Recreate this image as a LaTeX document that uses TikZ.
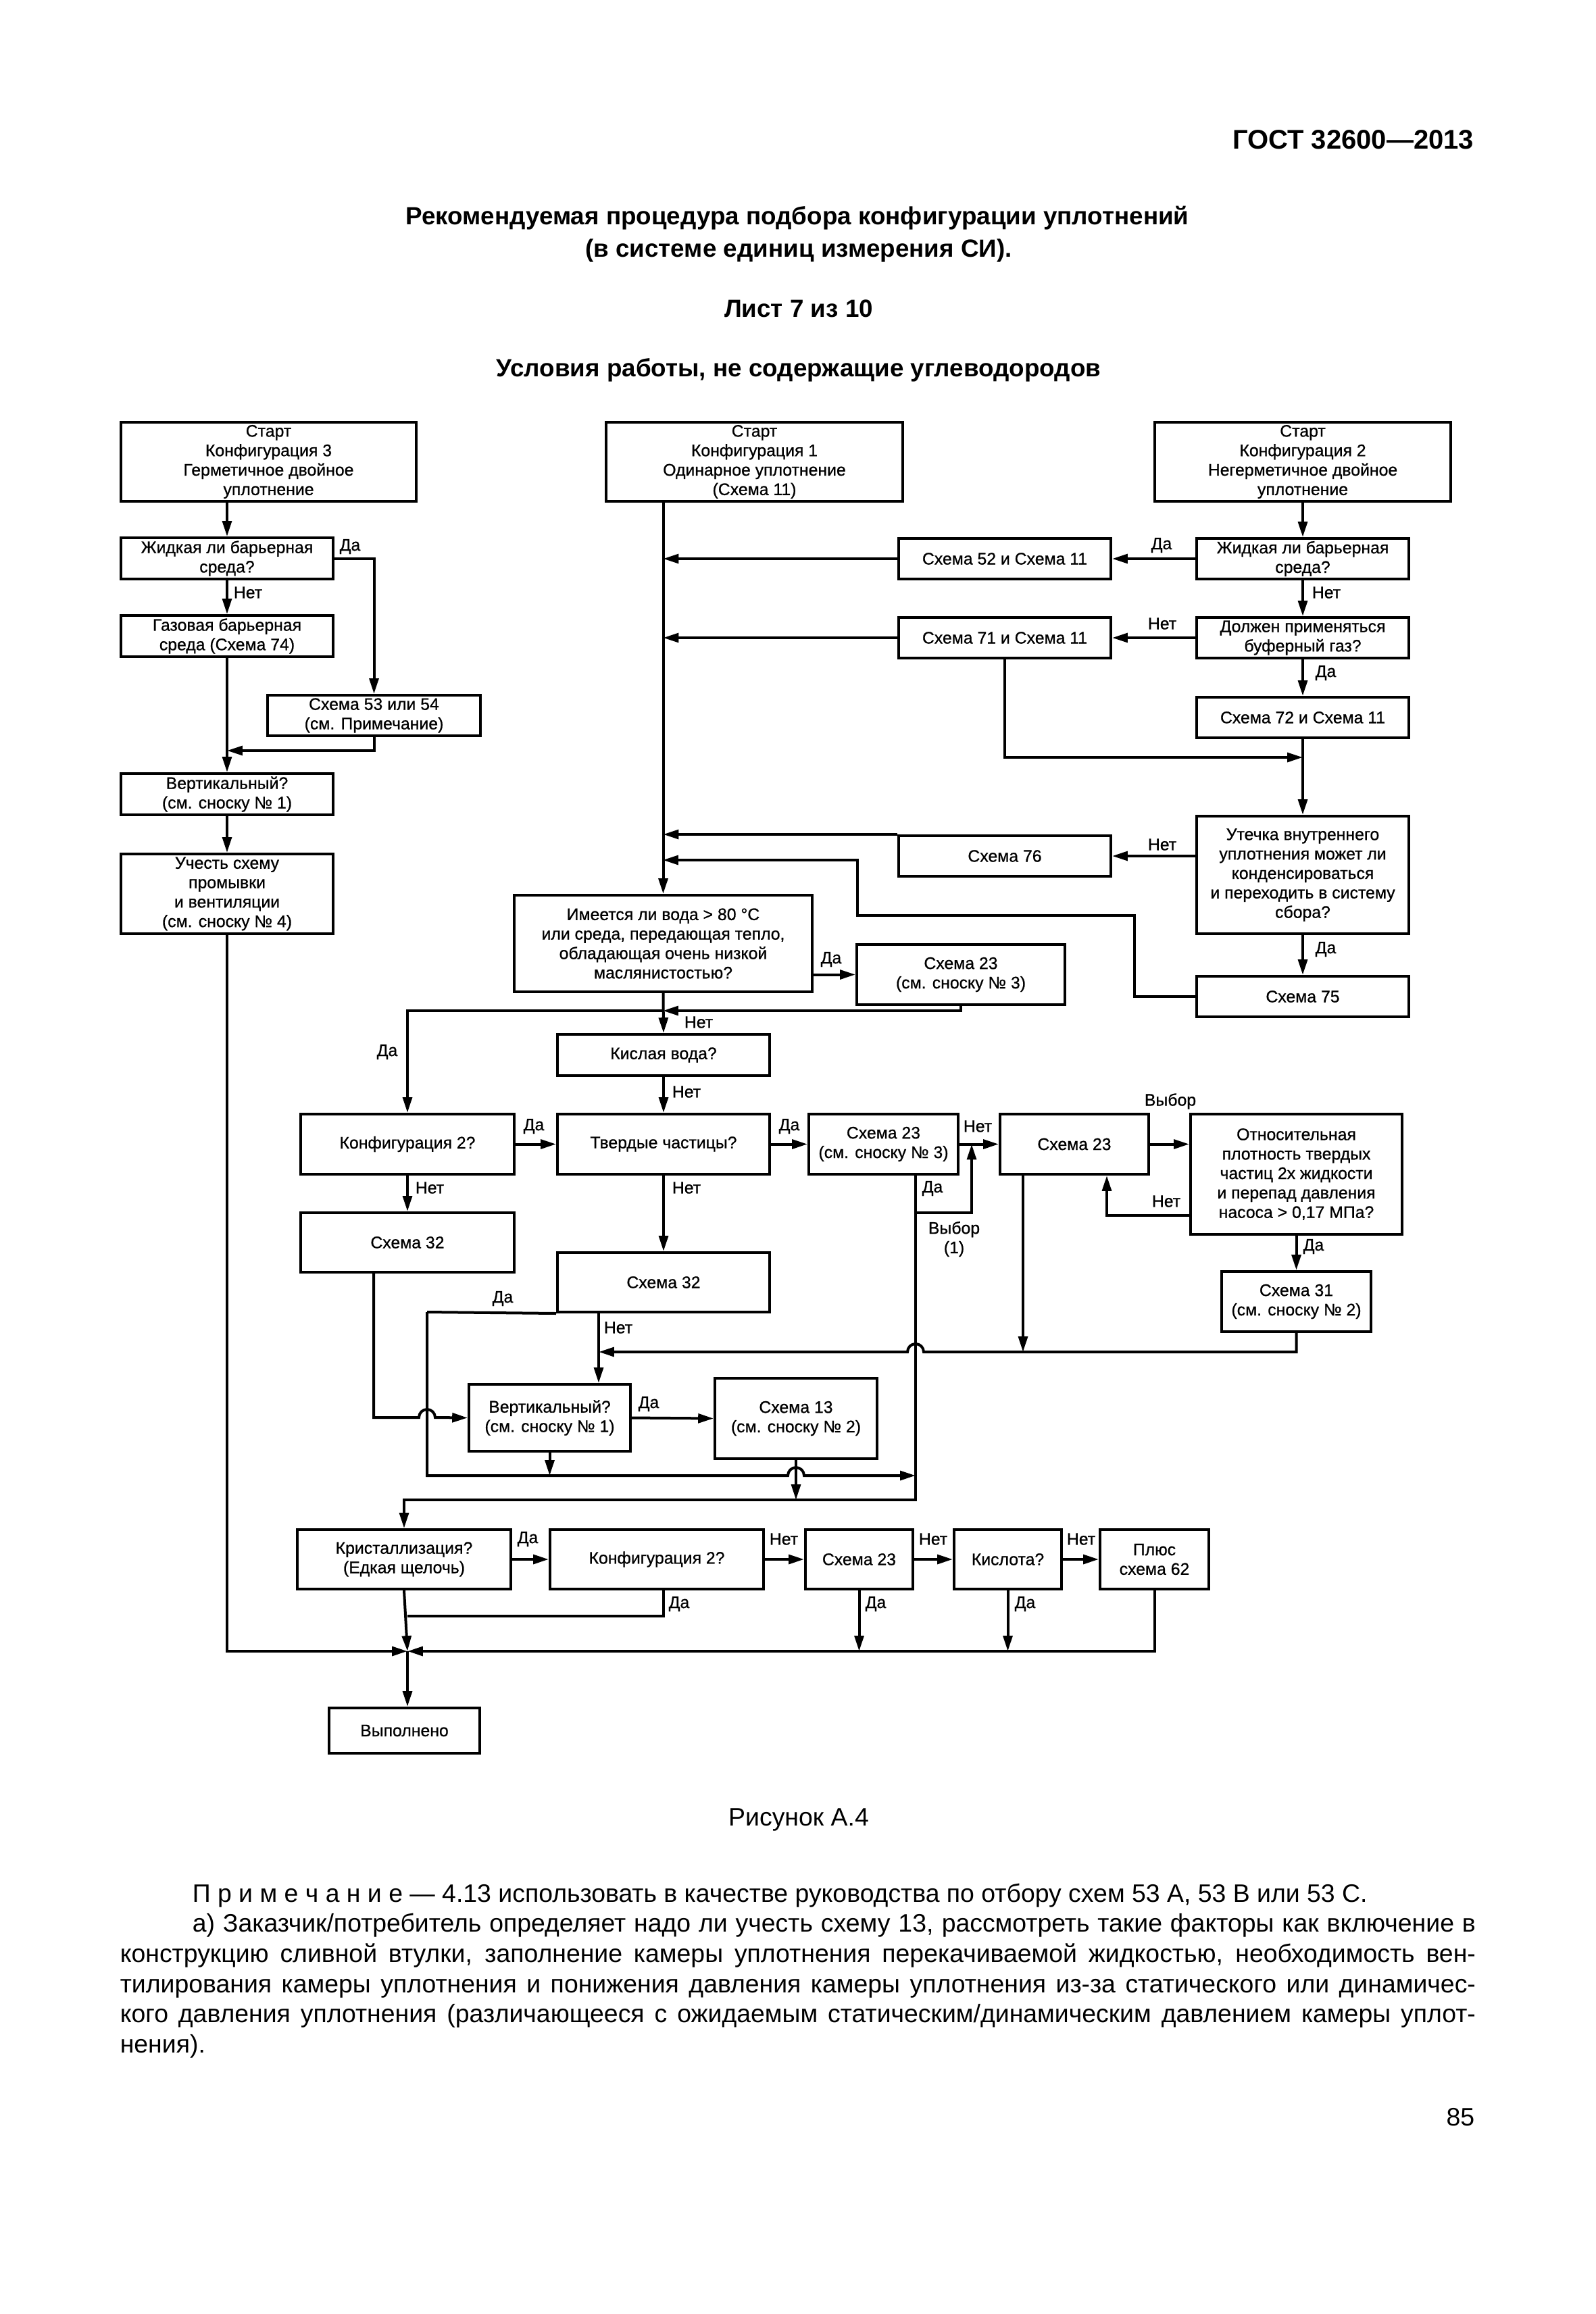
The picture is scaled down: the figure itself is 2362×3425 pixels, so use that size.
\documentclass[tikz,border=0pt]{standalone}
\usepackage{fontspec}
\setmainfont{Liberation Sans}
\newfontfamily\boxfont{Liberation Sans}[FakeBold=0.8]
\usetikzlibrary{arrows.meta}
\newcommand\fs{\boxfont\fontsize{6.2}{7.2}\selectfont}
\newcommand\hfnt{\fontsize{9.2}{11}\selectfont\bfseries}
\newcommand\gfnt{\fontsize{10}{12}\selectfont\bfseries}
\newcommand\bfnt{\fontsize{9.35}{11.15}\selectfont}
\tikzset{
  box/.style={draw,line width=1pt,inner sep=0pt,align=center,font=\fs},
  lbl/.style={inner sep=0pt,font=\fs},
  con/.style={line width=1pt},
  arr/.style={con,-{Triangle[length=5.7pt,width=3.4pt]}},
  head/.style={inner sep=0pt,font=\hfnt},
  body/.style={inner sep=0pt,font=\bfnt},
}
\newcommand\bx[6]{\node[box,minimum width={(#4-#2)*0.25pt},minimum height={(#5-#3)*0.25pt}] (#1) at ({(#2+#4)/2},{(#3+#5)/2}) {#6};}
\newcommand\lb[4]{\node[lbl] (#1) at (#2,#3) {#4};}
\newcommand\jline[2]{\makebox[#1][s]{#2}}
\begin{document}
\begin{tikzpicture}[x=0.25pt,y=-0.25pt]
\fill[white] (0,0) rectangle (2362,3425);
\useasboundingbox (0,0) rectangle (2362,3425);
% ---------- header ----------
\node[inner sep=0pt,font=\gfnt,anchor=east] (gost) at (2182,207) {ГОСТ 32600—2013};
\node[head] (t1) at (1180,323) {Рекомендуемая процедура подбора конфигурации уплотнений};
\node[head] (t2) at (1182,371) {(в системе единиц измерения СИ).};
\node[head] (t3) at (1182,457) {Лист 7 из 10};
\node[head] (t4) at (1182,548) {Условия работы, не содержащие углеводородов};
% ---------- boxes ----------
\bx{Start3}{179}{625}{616}{742}{Старт\\Конфигурация 3\\Герметичное двойное\\уплотнение}
\bx{Start1}{897}{625}{1336}{742}{Старт\\Конфигурация 1\\Одинарное уплотнение\\(Схема 11)}
\bx{Start2}{1709}{625}{2147}{742}{Старт\\Конфигурация 2\\Негерметичное двойное\\уплотнение}
\bx{L1}{179}{796}{493}{857}{Жидкая ли барьерная\\среда?}
\bx{L2}{179}{911}{493}{972}{Газовая барьерная\\среда (Схема 74)}
\bx{L3}{396}{1029}{711}{1089}{Схема 53 или 54\\(см. Примечание)}
\bx{L4}{179}{1145}{493}{1206}{Вертикальный?\\(см. сноску № 1)}
\bx{L5}{179}{1264}{493}{1382}{Учесть схему\\промывки\\и вентиляции\\(см. сноску № 4)}
\bx{M1}{1330}{797}{1644}{857}{Схема 52 и Схема 11}
\bx{M2}{1330}{914}{1644}{974}{Схема 71 и Схема 11}
\bx{R1}{1771}{797}{2085}{857}{Жидкая ли барьерная\\среда?}
\bx{R2}{1771}{914}{2085}{974}{Должен применяться\\буферный газ?}
\bx{R3}{1771}{1032}{2085}{1092}{Схема 72 и Схема 11}
\bx{R4}{1771}{1208}{2085}{1382}{Утечка внутреннего\\уплотнения может ли\\конденсироваться\\и переходить в систему\\сбора?}
\bx{M3}{1330}{1237}{1644}{1297}{Схема 76}
\bx{R5}{1771}{1445}{2085}{1505}{Схема 75}
\bx{C1}{761}{1325}{1202}{1468}{Имеется ли вода > 80 °C\\или среда, передающая тепло,\\обладающая очень низкой\\маслянистостью?}
\bx{C2}{1268}{1398}{1576}{1487}{Схема 23\\(см. сноску № 3)}
\bx{C3}{825}{1531}{1139}{1592}{Кислая вода?}
\bx{K1}{445}{1649}{761}{1738}{Конфигурация 2?}
\bx{C4}{825}{1649}{1139}{1738}{Твердые частицы?}
\bx{C5}{1197}{1649}{1418}{1738}{Схема 23\\(см. сноску № 3)}
\bx{C6}{1480}{1649}{1700}{1738}{Схема 23}
\bx{C8}{1762}{1649}{2075}{1827}{Относительная\\плотность твердых\\частиц 2х жидкости\\и перепад давления\\насоса > 0,17 МПа?}
\bx{K2}{445}{1795}{761}{1883}{Схема 32}
\bx{C7}{825}{1854}{1139}{1942}{Схема 32}
\bx{C9}{1808}{1882}{2029}{1971}{Схема 31\\(см. сноску № 2)}
\bx{V1}{694}{2049}{933}{2148}{Вертикальный?\\(см. сноску № 1)}
\bx{V2}{1058}{2040}{1298}{2159}{Схема 13\\(см. сноску № 2)}
\bx{K3}{440}{2264}{756}{2352}{Кристаллизация?\\(Едкая щелочь)}
\bx{K4}{814}{2264}{1130}{2352}{Конфигурация 2?}
\bx{K5}{1192}{2264}{1351}{2352}{Схема 23}
\bx{K6}{1412}{2264}{1571}{2352}{Кислота?}
\bx{K7}{1628}{2264}{1789}{2352}{Плюс\\схема 62}
\bx{Done}{487}{2528}{710}{2595}{Выполнено}
% ---------- junction coordinates ----------
\coordinate (j1) at (336,1111);
\coordinate (mg) at (603,2444);
\coordinate (j2) at (1928,1121);
\coordinate (j5) at (981,1273);
\coordinate (j3) at (981,1496);
\coordinate (c5b) at (1355,1738);
\coordinate (c5r) at (1438,1795);
\coordinate (j7) at (1355,2220);
\coordinate (c8l) at (1638,1799);
\coordinate (c6d) at (1514,2001);
\coordinate (c7x) at (886,1942);
\coordinate (c7l) at (632,1942);
\coordinate (k2x) at (553,1883);
\coordinate (k4x) at (982,2352);
\coordinate (k4j) at (603,2392);
% ---------- left column ----------
\draw[arr] (Start3.south -| L1.north) -- (L1.north);
\draw[arr] (L1.east) -| (L3.north);
\draw[arr] (L1.south) -- (L2.north);
\draw[arr] (L2.south) -- (L4.north);
\draw[arr] (L3.south) |- (j1);
\draw[arr] (L4.south) -- (L5.north);
\draw[arr] (L5.south) |- (mg);
% ---------- right column / top ----------
\draw[arr] (Start1.south -| C1.north) -- (C1.north);
\draw[arr] (Start2.south) -- (R1.north);
\draw[arr] (R1.west) -- (M1.east);
\draw[arr] (M1.west) -- (M1.west -| C1.north);
\draw[arr] (R1.south) -- (R2.north);
\draw[arr] (R2.west) -- (M2.east);
\draw[arr] (M2.west) -- (M2.west -| C1.north);
\draw[arr] (R2.south) -- (R3.north);
\draw[arr] (M2.south) |- (j2);
\draw[arr] (R3.south) -- (R4.north);
\draw[arr] (M3.east -| R4.west) -- (M3.east);
\draw[arr] (M3.north west) -- (M3.north west -| C1.north);
\draw[arr] (R4.south) -- (R5.north);
\draw[arr] (R5.west) -| (1679,1355) -| (1269,1273) -- (j5);
% ---------- middle ----------
\draw[arr] (C2.west -| C1.east) -- (C2.west);
\draw[arr] (C2.south) |- (j3);
\draw[arr] (C1.south) -- (C3.north);
\draw[arr] (j3) -| (K1.north);
\draw[arr] (C3.south) -- (C4.north);
\draw[arr] (K1.east) -- (C4.west);
\draw[arr] (C4.east) -- (C5.west);
\draw[arr] (C5.east) -- (C6.west);
\draw[arr] (C6.east) -- (C6.east -| C8.west);
\draw[arr] (K1.south) -- (K2.north);
\draw[arr] (C4.south) -- (C7.north);
\draw[arr] (c5b) -- (j7) -| (K3.north);
\draw[arr] (c5b |- c5r) -- (c5r) -- (c5r |- C5.east);
\draw[arr] (c8l -| C8.west) -- (c8l) -- (c8l |- C6.south);
\draw[arr] (C8.south) -- (C9.north);
\draw[arr] (c6d |- C6.south) -- (c6d);
\draw[arr] (C9.south) |- (1367,2001) arc[start angle=0,end angle=-180,radius=12] -- (c7x |- c6d);
\draw[arr] (c7x) -- (c7x |- V1.north);
\draw[con] (C7.south west) -- (c7l);
\draw[arr] (c7l) -- (632,2184) -- ([xshift=-3pt]V2.south |- 0,2184) arc[start angle=180,end angle=360,radius=12] -- (c5b |- 0,2184);
\draw[arr] (k2x) -- (553,2098) -- (620,2098) arc[start angle=180,end angle=360,radius=12] -- (V1.west);
\draw[arr] (V1.east) -- (V2.west);
\draw[arr] (V1.south) -- (V1.south |- 0,2184);
\draw[arr] (V2.south) -- (V2.south |- j7);
% ---------- bottom ----------
\draw[arr] (K3.east) -- (K4.west);
\draw[arr] (K4.east) -- (K5.west);
\draw[arr] (K5.east) -- (K6.west);
\draw[arr] (K6.east) -- (K7.west);
\draw[arr] (K3.south) -- (mg);
\draw[con] (k4x) |- (k4j);
\draw[arr] (K5.south) -- (K5.south |- mg);
\draw[arr] (K6.south) -- (K6.south |- mg);
\draw[arr] (K7.south) |- (mg);
\draw[arr] (mg) -- (mg |- Done.north);
% ---------- labels ----------
\lb{a1}{518}{809}{Да}
\lb{a2}{367}{877}{Нет}
\lb{a3}{1719}{807}{Да}
\lb{a4}{1963}{877}{Нет}
\lb{a5}{1720}{923}{Нет}
\lb{a6}{1962}{996}{Да}
\lb{a7}{1720}{1250}{Нет}
\lb{a8}{1962}{1405}{Да}
\lb{a9}{1230}{1420}{Да}
\lb{a10}{1034}{1513}{Нет}
\lb{a11}{573}{1557}{Да}
\lb{a12}{1016}{1616}{Нет}
\lb{a13}{790}{1667}{Да}
\lb{a14}{636}{1758}{Нет}
\lb{a15}{1168}{1667}{Да}
\lb{a16}{1447}{1667}{Нет}
\lb{a17}{1380}{1759}{Да}
\node[lbl,align=center] (a18) at (1412,1834) {Выбор\\(1)};
\lb{a19}{1732}{1630}{Выбор}
\lb{a20}{1726}{1778}{Нет}
\lb{a21}{1944}{1845}{Да}
\lb{a22}{1016}{1758}{Нет}
\lb{a23}{744}{1922}{Да}
\lb{a24}{915}{1965}{Нет}
\lb{a25}{960}{2078}{Да}
\lb{a26}{781}{2278}{Да}
\lb{a27}{1160}{2278}{Нет}
\lb{a28}{1381}{2278}{Нет}
\lb{a29}{1600}{2278}{Нет}
\lb{a30}{1005}{2374}{Да}
\lb{a31}{1296}{2374}{Да}
\lb{a32}{1517}{2374}{Да}
% ---------- footer ----------
\node[body] (fig) at (1182,2693) {Рисунок А.4};
\node[body,anchor=north west,align=left] (note) at (177,2787) {%
\hspace*{26.75pt}П р и м е ч а н и е — 4.13 использовать в качестве руководства по отбору схем 53 А, 53 В или 53 С.\\
\hspace*{26.75pt}\jline{474.75pt}{а) Заказчик/потребитель определяет надо ли учесть схему 13, рассмотреть такие факторы как включение в}\\
\jline{501.5pt}{конструкцию сливной втулки, заполнение камеры уплотнения перекачиваемой жидкостью, необходимость вен-}\\
\jline{501.5pt}{тилирования камеры уплотнения и понижения давления камеры уплотнения из-за статического или динамичес-}\\
\jline{501.5pt}{кого давления уплотнения (различающееся с ожидаемым статическим/динамическим давлением камеры уплот-}\\
нения).};
\node[body,anchor=east] (pg) at (2183,3134) {85};
\end{tikzpicture}
\end{document}
